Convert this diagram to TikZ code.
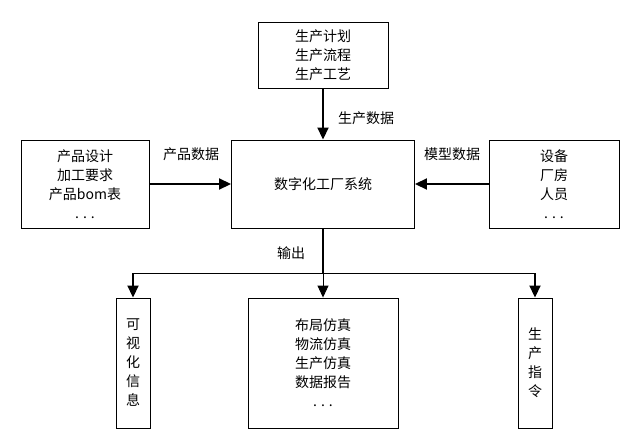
\documentclass[tikz,border=0pt]{standalone}
\usepackage{fontspec}
\newfontfamily\cjk{Noto Sans CJK SC}
\usetikzlibrary{arrows.meta}
\newcommand{\etcdots}{.\hspace{4pt}.\hspace{4pt}.}
\tikzset{
  box/.style={draw, line width=0.9pt, align=center, inner sep=1pt},
  link/.style={line width=1.8pt, -{Triangle[length=12pt,width=11pt]}},
  thinlink/.style={line width=0.9pt, -{Triangle[length=12pt,width=11pt]}},
  tag/.style={inner sep=0pt}
}

\begin{document}
\begin{tikzpicture}[x=1pt,y=-1pt,font=\cjk\fontsize{14}{19}\selectfont]
			\useasboundingbox (0,0) rectangle (638,439);
			% system
			\node[box,minimum width=183pt,minimum height=88pt] (sys) at (323,184) {数字化工厂系统};
			% inputs
			\node[box,minimum width=130pt,minimum height=66pt] (plan) at (323,55) {生产计划\\生产流程\\生产工艺};
			\node[box,minimum width=128pt,minimum height=88pt] (prod) at (85,184) {产品设计\\加工要求\\产品bom表\\\etcdots};
			\node[box,minimum width=130pt,minimum height=88pt] (res) at (554,184) {设备\\厂房\\人员\\\etcdots};
			\draw[link] (plan) -- (sys);
			\draw[link] (prod) -- (sys);
			\draw[link] (res) -- (sys);
			\node[tag] (plantag) at (366,118) {生产数据};
			\node[tag] (prodtag) at (191,154) {产品数据};
			\node[tag] (restag) at (452,154) {模型数据};
			% outputs
			\node[box,minimum width=34pt,minimum height=130pt] (vis) at (133,363) {可\\视\\化\\信\\息};
			\node[box,minimum width=150pt,minimum height=130pt] (sim) at (323,363) {布局仿真\\物流仿真\\生产仿真\\数据报告\\\etcdots};
			\node[box,minimum width=34pt,minimum height=130pt] (cmd) at (535,363) {生\\产\\指\\令};
			\coordinate (split) at (323,273.5);
			\draw[line width=1.8pt] (sys) -- (split);
			\draw[link] (split) -| (vis);
			\draw[link] (split) -| (cmd);
			\draw[thinlink] (split) -- (sim);
			\node[tag] (outtag) at (291,253) {输出};
		\end{tikzpicture}
\end{document}
